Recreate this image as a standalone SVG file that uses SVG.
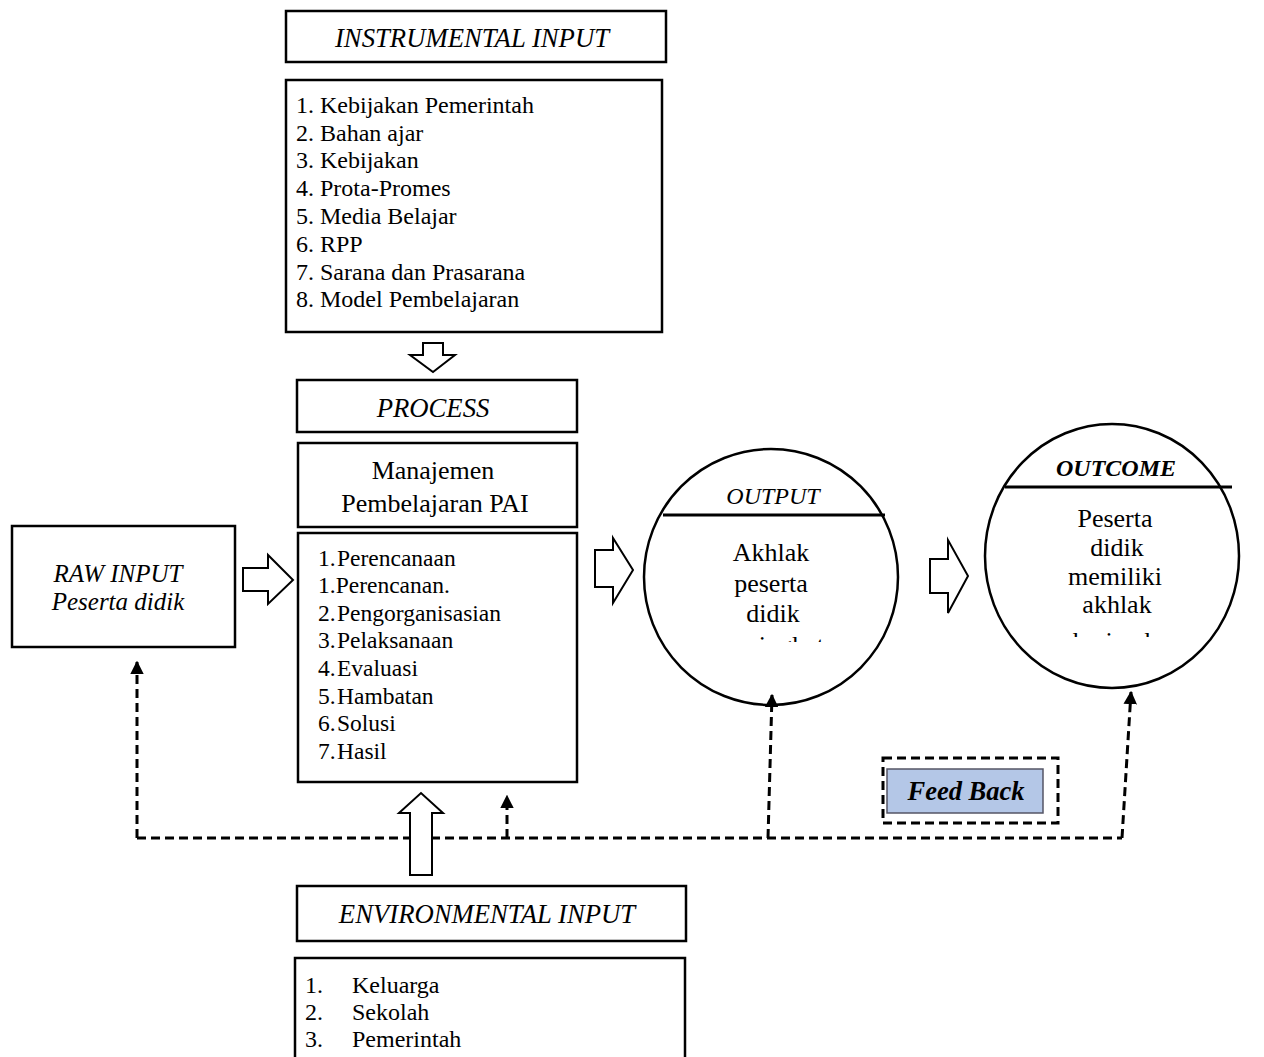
<svg xmlns="http://www.w3.org/2000/svg" width="1264" height="1057" viewBox="0 0 1264 1057">
<defs>
<style>
.box{fill:#fff;stroke:#000;stroke-width:2.5}
.blk{fill:#fff;stroke:#000;stroke-width:2}
.t{font-family:"Liberation Serif","Times New Roman",serif;fill:#000}
.it{font-style:italic}
.dash{fill:none;stroke:#000;stroke-width:3;stroke-dasharray:9,5}
</style>
<marker id="ah" viewBox="0 0 10 10" refX="9" refY="5" markerWidth="4.5" markerHeight="4.5" orient="auto" markerUnits="strokeWidth">
<path d="M0,0 L10,5 L0,10 z" fill="#000"/>
</marker>
<clipPath id="clipOut"><rect x="650" y="450" width="240" height="192"/></clipPath>
<clipPath id="clipOc"><rect x="990" y="430" width="240" height="207"/></clipPath>
</defs>
<rect width="1264" height="1057" fill="#fff"/>

<g id="instrumental-title">
<rect class="box" x="286" y="11" width="380" height="51"/>
<text class="t it" x="472" y="47" font-size="26.7" text-anchor="middle">INSTRUMENTAL INPUT</text>
</g>

<g id="instrumental-list">
<rect class="box" x="286" y="80" width="376" height="252"/>
<g class="t" font-size="24">
<text x="296" y="113">1. Kebijakan Pemerintah</text>
<text x="296" y="141">2. Bahan ajar</text>
<text x="296" y="168">3. Kebijakan</text>
<text x="296" y="196">4. Prota-Promes</text>
<text x="296" y="224">5. Media Belajar</text>
<text x="296" y="252">6. RPP</text>
<text x="296" y="280">7. Sarana dan Prasarana</text>
<text x="296" y="307">8. Model Pembelajaran</text>
</g>
</g>

<g id="process-title">
<rect class="box" x="297" y="380" width="280" height="52"/>
<text class="t it" x="433" y="417" font-size="26.7" text-anchor="middle">PROCESS</text>
</g>

<g id="process-name">
<rect class="box" x="298" y="443" width="279" height="84"/>
<text class="t" x="433" y="479" font-size="26" text-anchor="middle">Manajemen</text>
<text class="t" x="435" y="512" font-size="26" text-anchor="middle">Pembelajaran PAI</text>
</g>

<g id="process-list">
<rect class="box" x="298" y="533" width="279" height="249"/>
<g class="t" font-size="23.5">
<text x="318" y="566">1.</text><text x="337" y="566">Perencanaan</text>
<text x="318" y="593">1.Perencanan.</text>
<text x="318" y="621">2.</text><text x="337" y="621">Pengorganisasian</text>
<text x="318" y="648">3.</text><text x="337" y="648">Pelaksanaan</text>
<text x="318" y="676">4.</text><text x="337" y="676">Evaluasi</text>
<text x="318" y="704">5.</text><text x="337" y="704">Hambatan</text>
<text x="318" y="731">6.</text><text x="337" y="731">Solusi</text>
<text x="318" y="759">7.</text><text x="337" y="759">Hasil</text>
</g>
</g>

<g id="raw-input">
<rect class="box" x="12" y="526" width="223" height="121"/>
<text class="t it" x="118" y="582" font-size="25" text-anchor="middle">RAW INPUT</text>
<text class="t it" x="118" y="610" font-size="25" text-anchor="middle">Peserta didik</text>
</g>

<g id="output">
<ellipse class="box" cx="771" cy="577" rx="127" ry="128"/>
<line x1="663" y1="515" x2="885" y2="515" stroke="#000" stroke-width="3"/>
<text class="t it" x="773" y="504" font-size="24" text-anchor="middle">OUTPUT</text>
<g class="t" font-size="26" text-anchor="middle" clip-path="url(#clipOut)">
<text x="771" y="561">Akhlak</text>
<text x="771" y="592">peserta</text>
<text x="773" y="622">didik</text>
<text x="769" y="654">meningkat</text>
</g>
</g>

<g id="outcome">
<ellipse class="box" cx="1112" cy="556" rx="127" ry="132"/>
<line x1="1005" y1="487" x2="1232" y2="487" stroke="#000" stroke-width="3"/>
<text class="t it" x="1116" y="476" font-size="24" font-weight="bold" text-anchor="middle">OUTCOME</text>
<g class="t" font-size="26" text-anchor="middle" clip-path="url(#clipOc)">
<text x="1115" y="527">Peserta</text>
<text x="1117" y="556">didik</text>
<text x="1115" y="585">memiliki</text>
<text x="1117" y="613">akhlak</text>
<text x="1115" y="650">karimah</text>
</g>
</g>

<g id="feedback">
<rect x="883" y="758" width="175" height="65" fill="none" stroke="#000" stroke-width="3" stroke-dasharray="9,5"/>
<rect x="887" y="769" width="156" height="44" fill="#b4c7e7" stroke="#556" stroke-width="1.5"/>
<text class="t it" x="966" y="800" font-size="26.5" font-weight="bold" text-anchor="middle">Feed Back</text>
</g>

<g id="environmental-title">
<rect class="box" x="297" y="886" width="389" height="55"/>
<text class="t it" x="487" y="923" font-size="26.7" text-anchor="middle">ENVIRONMENTAL INPUT</text>
</g>

<g id="environmental-list">
<rect class="box" x="295" y="958" width="390" height="120"/>
<g class="t" font-size="24">
<text x="305" y="993">1.</text><text x="352" y="993">Keluarga</text>
<text x="305" y="1020">2.</text><text x="352" y="1020">Sekolah</text>
<text x="305" y="1047">3.</text><text x="352" y="1047">Pemerintah</text>
</g>
</g>

<g id="connectors">
<polyline class="dash" points="137,838 1122,838"/>
<line class="dash" x1="137" y1="838" x2="137" y2="662" marker-end="url(#ah)"/>
<line class="dash" x1="507" y1="838" x2="507" y2="796" marker-end="url(#ah)"/>
<line class="dash" x1="768" y1="838" x2="772" y2="695" marker-end="url(#ah)"/>
<line class="dash" x1="1122" y1="838" x2="1131" y2="692" marker-end="url(#ah)"/>
<path class="blk" d="M423,343 L443,343 L443,355 L455,355 L433,372 L410,355 L423,355 Z"/>
<path class="blk" d="M243,568 L268,568 L268,555 L293,580 L268,604 L268,591 L243,591 Z"/>
<path class="blk" d="M595,550 L613,550 L613,538 L633,570 L613,603 L613,587 L595,587 Z"/>
<path class="blk" d="M930,559 L948,559 L948,540 L968,576 L948,613 L948,593 L930,593 Z"/>
<path class="blk" d="M410,875 L432,875 L432,813 L443,813 L421,793 L399,813 L410,813 Z"/>
</g>
</svg>
